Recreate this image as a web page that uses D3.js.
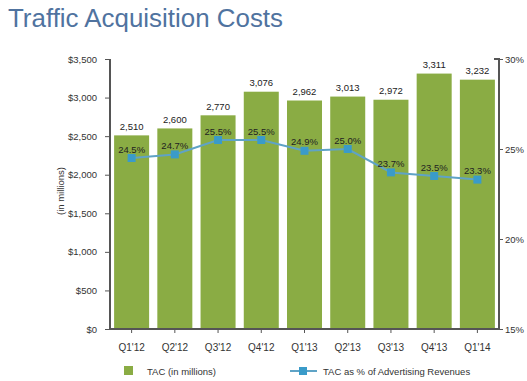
<!DOCTYPE html>
<html><head><meta charset="utf-8">
<script src="https://cdn.jsdelivr.net/npm/d3@7"></script>
<style>body{margin:0;background:#fff}svg{display:block;font-family:"Liberation Sans",Arial,sans-serif}</style>
</head><body>
<svg id="c" width="527" height="381"></svg>
<script>
const quarters = ["Q1'12","Q2'12","Q3'12","Q4'12","Q1'13","Q2'13","Q3'13","Q4'13","Q1'14"];
const tac = [2510,2600,2770,3076,2962,3013,2972,3311,3232];
const tacPct = [24.5,24.7,25.5,25.5,24.9,25.0,23.7,23.5,23.3];
const leftTicks = [0,500,1000,1500,2000,2500,3000,3500];
const rightTicks = [15,20,25,30];

const svg = d3.select("#c");
const L = 110, R = 499, T = 59, B = 329;
const x = d3.scaleBand().domain(quarters).range([L,R]).paddingInner(0.19).paddingOuter(0.095);
const y = d3.scaleLinear().domain([0,3500]).range([B,T]);
const y2 = d3.scaleLinear().domain([15,30]).range([B,T]);
const GREEN = "#8aac44", BLUE = "#3a9bc9", LINE = "#5fa3c6";

svg.append("text").attr("x",8).attr("y",27).attr("font-size",25).attr("fill","#50739f")
  .attr("textLength",275).attr("lengthAdjust","spacingAndGlyphs").text("Traffic Acquisition Costs");

// bars
svg.selectAll("rect.bar").data(tac).join("rect").attr("class","bar")
  .attr("x",(d,i)=>x(quarters[i])).attr("width",x.bandwidth())
  .attr("y",d=>y(d)).attr("height",d=>B-y(d)).attr("fill",GREEN);

svg.selectAll("text.bv").data(tac).join("text").attr("class","bv")
  .attr("x",(d,i)=>x(quarters[i])+x.bandwidth()/2).attr("y",d=>y(d)-5.5)
  .attr("text-anchor","middle").attr("font-size",9.5).attr("fill","#222")
  .text(d=>d3.format(",")(d));

// axes
const leftAxis = svg.append("g").attr("transform",`translate(${L},0)`)
  .call(d3.axisLeft(y).tickValues(leftTicks).tickSize(5).tickPadding(8).tickFormat(d=>"$"+d3.format(",")(d)));
const rightAxis = svg.append("g").attr("transform",`translate(${R},0)`)
  .call(d3.axisRight(y2).tickValues(rightTicks).tickSize(4).tickPadding(2).tickFormat(d=>d+"%"));
const bottomAxis = svg.append("g").attr("transform",`translate(0,${B})`)
  .call(d3.axisBottom(x).tickSize(4).tickPadding(11));
[leftAxis,rightAxis,bottomAxis].forEach(g=>{
  g.select(".domain").attr("stroke","#555").attr("stroke-width",2);
  g.selectAll(".tick line").attr("stroke","#555");
  g.selectAll("text").attr("font-family","Liberation Sans, Arial, sans-serif").attr("font-size",9.5).attr("fill","#333");
});
bottomAxis.selectAll("text").attr("font-size",10);
leftAxis.select(".domain").attr("d",`M0,${T}V${B}`);
rightAxis.select(".domain").attr("d",`M-5,${T}H0V${B}H-${R-L}`);
bottomAxis.select(".domain").attr("d",`M${L},0H${R}`);

svg.append("text").attr("transform","translate(64,191) rotate(-90)").attr("text-anchor","middle")
  .attr("font-size",9.5).attr("fill","#333").text("(in millions)");

// line
const cx = (i)=>x(quarters[i])+x.bandwidth()/2;
svg.append("path").datum(tacPct)
  .attr("d",d3.line().x((d,i)=>cx(i)).y(d=>y2(d)))
  .attr("fill","none").attr("stroke",LINE).attr("stroke-width",2);
svg.selectAll("rect.mk").data(tacPct).join("rect").attr("class","mk")
  .attr("x",(d,i)=>cx(i)-4).attr("y",d=>y2(d)-4).attr("width",8).attr("height",8).attr("fill",BLUE);
svg.selectAll("text.pv").data(tacPct).join("text").attr("class","pv")
  .attr("x",(d,i)=>cx(i)).attr("y",d=>y2(d)-5.5)
  .attr("text-anchor","middle").attr("font-size",9.5).attr("fill","#222")
  .text(d=>d.toFixed(1)+"%");

// legend
svg.append("rect").attr("x",124).attr("y",366).attr("width",9).attr("height",9).attr("fill",GREEN);
svg.append("text").attr("x",147).attr("y",374.5).attr("font-size",9.5).attr("fill","#333").text("TAC (in millions)");
svg.append("line").attr("x1",290).attr("x2",317).attr("y1",371).attr("y2",371).attr("stroke",LINE).attr("stroke-width",2);
svg.append("rect").attr("x",299).attr("y",367).attr("width",8).attr("height",8).attr("fill",BLUE);
svg.append("text").attr("x",323).attr("y",374.5).attr("font-size",9.5).attr("fill","#333").text("TAC as % of Advertising Revenues");
</script>
</body></html>
